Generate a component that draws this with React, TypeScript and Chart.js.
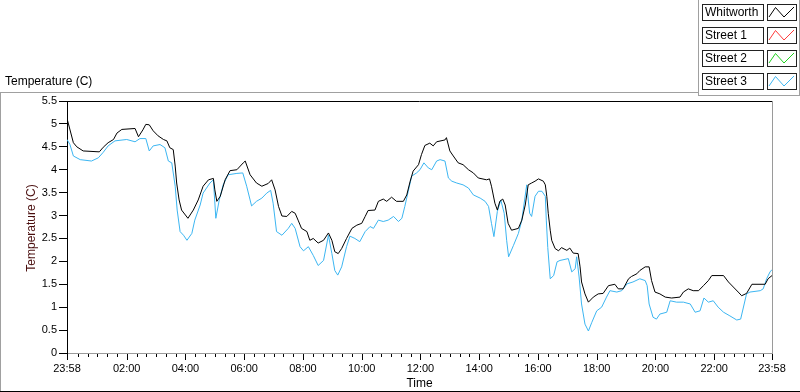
import React, { useEffect, useRef } from 'react';
import { Chart, registerables } from 'chart.js';

Chart.register(...registerables);

// minutes after 23:58 (start of the day window)
const whitworthTime = [
  0, 13, 20, 33, 66, 74, 84, 95, 102, 112,
  139, 146, 155, 161, 168, 176, 186, 197, 204, 210,
  217, 221, 224, 229, 234, 247, 258, 268, 278, 289,
  299, 302, 306, 313, 323, 333, 347, 360, 364, 374,
  387, 398, 411, 418, 425, 432, 439, 449, 459, 466,
  472, 479, 490, 496, 503, 513, 524, 534, 541, 547,
  554, 561, 571, 582, 592, 602, 609, 615, 629, 636,
  646, 653, 663, 673, 687, 694, 701, 707, 718, 724,
  731, 741, 748, 755, 772, 775, 782, 789, 799, 809,
  820, 830, 840, 857, 863, 867, 874, 879, 884, 890,
  895, 901, 908, 922, 929, 936, 942, 949, 956, 963,
  973, 977, 980, 983, 987, 990, 997, 1004, 1010, 1021,
  1027, 1034, 1044, 1048, 1051, 1058, 1065, 1075, 1085, 1095,
  1106, 1119, 1126, 1136, 1147, 1153, 1164, 1170, 1181, 1189,
  1194, 1201, 1211, 1222, 1235, 1252, 1259, 1269, 1279, 1290,
  1300, 1310, 1317, 1341, 1351, 1361, 1371, 1378, 1388, 1399,
  1426, 1432, 1440,
];
const whitworth = [
  5.12, 4.59, 4.5, 4.41, 4.39, 4.49, 4.59, 4.66, 4.8, 4.88,
  4.9, 4.72, 4.87, 4.99, 4.98, 4.85, 4.74, 4.66, 4.63, 4.48,
  4.44, 4.08, 3.71, 3.34, 3.12, 2.94, 3.12, 3.34, 3.64, 3.78,
  3.81, 3.56, 3.31, 3.42, 3.78, 3.98, 4.0, 4.15, 4.19, 3.89,
  3.71, 3.64, 3.7, 3.78, 3.56, 3.2, 2.99, 2.98, 3.09, 3.05,
  2.9, 2.72, 2.65, 2.46, 2.5, 2.4, 2.46, 2.62, 2.46, 2.21,
  2.17, 2.28, 2.5, 2.72, 2.79, 2.83, 2.98, 3.11, 3.12, 3.31,
  3.36, 3.31, 3.4, 3.31, 3.31, 3.45, 3.75, 3.97, 4.11, 4.33,
  4.53, 4.58, 4.52, 4.61, 4.65, 4.7, 4.41, 4.3, 4.15, 4.11,
  4.0, 3.93, 3.82, 3.78, 3.8, 3.64, 3.27, 3.12, 3.31, 3.36,
  3.23, 2.83, 2.68, 2.72, 2.9, 3.23, 3.67, 3.71, 3.75, 3.8,
  3.75, 3.67, 3.42, 3.05, 2.68, 2.46, 2.28, 2.23, 2.3, 2.24,
  2.29, 2.18, 2.17, 1.88, 1.55, 1.29, 1.11, 1.22, 1.29, 1.3,
  1.47, 1.5, 1.4, 1.4, 1.62, 1.67, 1.73, 1.8, 1.88, 1.88,
  1.58, 1.33, 1.29, 1.22, 1.2, 1.22, 1.33, 1.4, 1.36, 1.36,
  1.47, 1.58, 1.69, 1.69, 1.55, 1.44, 1.33, 1.25, 1.3, 1.5,
  1.5, 1.62, 1.69,
];

const street3Time = [
  0, 6, 13, 27, 50, 64, 74, 84, 98, 122,
  139, 149, 161, 168, 176, 190, 200, 207, 214, 221,
  225, 231, 238, 245, 255, 261, 272, 278, 292, 299,
  304, 311, 319, 329, 347, 359, 367, 374, 377, 387,
  398, 408, 416, 421, 428, 439, 452, 459, 466, 476,
  483, 493, 503, 513, 524, 534, 541, 547, 553, 561,
  571, 578, 588, 598, 609, 619, 626, 636, 646, 656,
  667, 677, 684, 690, 697, 704, 714, 721, 729, 738,
  745, 755, 762, 772, 779, 786, 796, 809, 820, 830,
  844, 854, 861, 867, 872, 879, 886, 893, 898, 902,
  912, 922, 929, 939, 945, 949, 956, 963, 970, 977,
  979, 982, 987, 994, 1001, 1007, 1024, 1031, 1038, 1041,
  1046, 1051, 1058, 1065, 1072, 1082, 1092, 1102, 1109, 1123,
  1133, 1144, 1156, 1170, 1181, 1185, 1189, 1197, 1204, 1211,
  1225, 1232, 1245, 1259, 1273, 1283, 1293, 1301, 1310, 1320,
  1330, 1341, 1354, 1368, 1376, 1388, 1395, 1416, 1422, 1429,
  1436, 1440,
];
const street3 = [
  4.66, 4.55, 4.3, 4.22, 4.19, 4.26, 4.38, 4.52, 4.63, 4.66,
  4.61, 4.68, 4.68, 4.41, 4.52, 4.55, 4.48, 4.19, 4.15, 3.64,
  3.12, 2.65, 2.57, 2.46, 2.61, 2.9, 3.23, 3.49, 3.71, 3.78,
  2.94, 3.34, 3.67, 3.89, 3.92, 3.93, 3.64, 3.34, 3.21, 3.31,
  3.38, 3.49, 3.55, 3.27, 2.65, 2.57, 2.72, 2.83, 2.72, 2.32,
  2.23, 2.32, 2.13, 1.91, 2.02, 2.57, 2.17, 1.8, 1.7, 1.88,
  2.32, 2.55, 2.5, 2.43, 2.65, 2.76, 2.72, 2.9, 2.87, 2.9,
  2.98, 2.87, 2.94, 3.2, 3.53, 3.86, 3.93, 4.0, 4.15, 4.04,
  4.0, 4.19, 4.22, 4.19, 3.82, 3.75, 3.71, 3.67, 3.6, 3.45,
  3.38, 3.31, 3.2, 2.83, 2.54, 3.09, 3.34, 3.05, 2.46, 2.1,
  2.35, 2.61, 2.9, 3.67, 3.05, 2.98, 3.42, 3.53, 3.53, 3.42,
  2.9, 2.3, 1.62, 1.69, 1.99, 2.02, 2.06, 1.77, 1.84, 2.1,
  1.66, 1.07, 0.63, 0.48, 0.67, 0.92, 1.0, 1.22, 1.36, 1.33,
  1.36, 1.51, 1.55, 1.62, 1.58, 1.47, 1.07, 0.78, 0.74, 0.85,
  0.89, 1.14, 1.11, 1.11, 1.07, 0.89, 0.92, 1.2, 1.11, 1.14,
  1.0, 0.89, 0.81, 0.72, 0.74, 1.29, 1.33, 1.36, 1.4, 1.62,
  1.77, 1.82,
];

const street1: { x: number; y: number }[] = [];
const street2: { x: number; y: number }[] = [];

const seriesNames = ['Whitworth', 'Street 1', 'Street 2', 'Street 3'];
const seriesColors = ['#000000', '#ff3a3a', '#1fd21f', '#3cb6f2'];

const startClock = 23 * 60 + 58;
const majorTimes = [0, 122, 242, 362, 482, 602, 722, 842, 962, 1082, 1202, 1322, 1440];
const minorTimes: number[] = [];
for (let t = 22; t < 1440; t += 20) {
  if (!majorTimes.includes(t)) minorTimes.push(t);
}

const yMin = 0;
const yMax = 5.5;
const yStep = 0.5;

const chartTitle = 'Temperature (C)';
const yTitle = 'Temperature (C)';
const xTitle = 'Time';

const FONT = '"Liberation Sans", Arial, sans-serif';

function clockLabel(t: number): string {
  const m = (startClock + Math.round(t)) % 1440;
  const hh = Math.floor(m / 60);
  const mm = m % 60;
  return `${hh < 10 ? '0' : ''}${hh}:${mm < 10 ? '0' : ''}${mm}`;
}

function seg(ctx: CanvasRenderingContext2D, x1: number, y1: number, x2: number, y2: number) {
  ctx.beginPath();
  ctx.moveTo(x1, y1);
  ctx.lineTo(x2, y2);
  ctx.stroke();
}

const decorPlugin = {
  id: 'decor',
  beforeDraw(chart: any) {
    const ctx = chart.ctx as CanvasRenderingContext2D;
    ctx.save();
    ctx.fillStyle = '#ffffff';
    ctx.fillRect(0, 0, chart.width, chart.height);
    ctx.restore();
  },
  afterDraw(chart: any) {
    const ctx = chart.ctx as CanvasRenderingContext2D;
    const a = chart.chartArea;
    const xs = chart.scales.x;
    ctx.save();
    ctx.lineWidth = 1;

    // plot border: top black, right grey
    ctx.strokeStyle = '#000';
    seg(ctx, a.left, Math.round(a.top) + 0.5, a.right, Math.round(a.top) + 0.5);
    ctx.strokeStyle = '#9a9a9a';
    seg(ctx, Math.round(a.right) + 0.5, a.top, Math.round(a.right) + 0.5, a.bottom + 1);

    // x tick marks
    ctx.strokeStyle = '#000';
    const yb = Math.round(a.bottom) + 1;
    for (const t of minorTimes) {
      const px = Math.round(xs.getPixelForValue(t)) + 0.5;
      seg(ctx, px, yb, px, yb + 3);
    }
    for (const t of majorTimes) {
      const px = Math.round(xs.getPixelForValue(t)) + 0.5;
      seg(ctx, px, yb, px, yb + 6);
    }

    // axis titles
    ctx.fillStyle = '#000';
    ctx.font = `12px ${FONT}`;
    ctx.textAlign = 'center';
    ctx.textBaseline = 'middle';
    ctx.fillText(xTitle, (a.left + a.right) / 2, 384);

    ctx.save();
    ctx.fillStyle = '#4a0f0f';
    ctx.translate(32, (a.top + a.bottom) / 2 + 1);
    ctx.rotate(-Math.PI / 2);
    ctx.fillText(yTitle, 0, 0);
    ctx.restore();

    // chart title
    ctx.textAlign = 'left';
    ctx.fillStyle = '#000';
    ctx.fillText(chartTitle, 5, 82);

    // panel frame
    ctx.strokeStyle = '#a0a0a0';
    seg(ctx, 0, 92.5, 698, 92.5);
    seg(ctx, 0.5, 92, 0.5, 391);
    seg(ctx, 698.5, 0, 698.5, 95.5);
    seg(ctx, 698, 95.5, 800, 95.5);
    seg(ctx, 799.5, 0, 799.5, 95.5);
    ctx.strokeStyle = '#000';
    seg(ctx, 0, 391.5, 800, 391.5);

    // legend
    const boxTops = [4, 27, 50, 73];
    for (let i = 0; i < seriesNames.length; i++) {
      const top = boxTops[i];
      ctx.fillStyle = '#fff';
      ctx.fillRect(702, top, 61, 16);
      ctx.fillRect(767, top, 29, 16);
      ctx.strokeStyle = '#222';
      ctx.strokeRect(702.5, top + 0.5, 61, 16);
      ctx.strokeRect(767.5, top + 0.5, 29, 16);
      ctx.fillStyle = '#000';
      ctx.textAlign = 'left';
      ctx.textBaseline = 'middle';
      ctx.font = `12px ${FONT}`;
      ctx.fillText(seriesNames[i], 705, top + 9);
      ctx.strokeStyle = seriesColors[i];
      ctx.beginPath();
      ctx.moveTo(769, top + 13);
      ctx.lineTo(775.5, top + 3.5);
      ctx.lineTo(784, top + 13);
      ctx.lineTo(794, top + 3);
      ctx.stroke();
    }
    ctx.restore();
  },
};

export default function App() {
  const canvasRef = useRef<HTMLCanvasElement | null>(null);

  useEffect(() => {
    const canvas = canvasRef.current;
    if (!canvas) return;
    const toPts = (ts: number[], vs: number[]) => ts.map((t, i) => ({ x: t, y: vs[i] }));
    const chart = new Chart(canvas, {
      type: 'line',
      data: {
        datasets: [
          { label: seriesNames[0], data: toPts(whitworthTime, whitworth), borderColor: seriesColors[0], borderWidth: 1, pointRadius: 0, tension: 0, fill: false },
          { label: seriesNames[1], data: street1, borderColor: seriesColors[1], borderWidth: 1, pointRadius: 0 },
          { label: seriesNames[2], data: street2, borderColor: seriesColors[2], borderWidth: 1, pointRadius: 0 },
          { label: seriesNames[3], data: toPts(street3Time, street3), borderColor: seriesColors[3], borderWidth: 1, pointRadius: 0, tension: 0, fill: false },
        ],
      },
      options: {
        responsive: false,
        animation: false,
        layout: { padding: { top: 101, right: 28, left: 0, bottom: 0 } },
        plugins: { legend: { display: false }, tooltip: { enabled: false }, title: { display: false } },
        scales: {
          x: {
            type: 'linear',
            min: 0,
            max: 1440,
            afterBuildTicks: (s: any) => {
              s.ticks = majorTimes.map((v) => ({ value: v }));
            },
            afterFit: (s: any) => {
              s.height = 39;
              s.paddingLeft = 0;
              s.paddingRight = 0;
            },
            grid: { display: false, drawTicks: false },
            border: { display: true, color: '#9a9a9a' },
            ticks: {
              autoSkip: false,
              maxRotation: 0,
              padding: 9,
              color: '#000',
              font: { family: FONT, size: 11 },
              callback: (v: any) => clockLabel(Number(v)),
            },
          },
          y: {
            min: yMin,
            max: yMax,
            afterFit: (s: any) => {
              s.width = 67;
              s.paddingTop = 0;
              s.paddingBottom = 0;
            },
            grid: { drawOnChartArea: false, drawTicks: true, tickLength: 8, color: '#000' },
            border: { display: true, color: '#000' },
            ticks: {
              stepSize: yStep,
              padding: 2,
              color: '#000',
              font: { family: FONT, size: 11 },
              callback: (v: any) => String(v),
            },
          },
        },
      },
      plugins: [decorPlugin],
    });
    return () => chart.destroy();
  }, []);

  return (
    <div style={{ position: 'fixed', left: 0, top: 0, width: 800, height: 392, background: '#fff' }}>
      <canvas ref={canvasRef} width={800} height={392} style={{ display: 'block', width: 800, height: 392 }} />
    </div>
  );
}
